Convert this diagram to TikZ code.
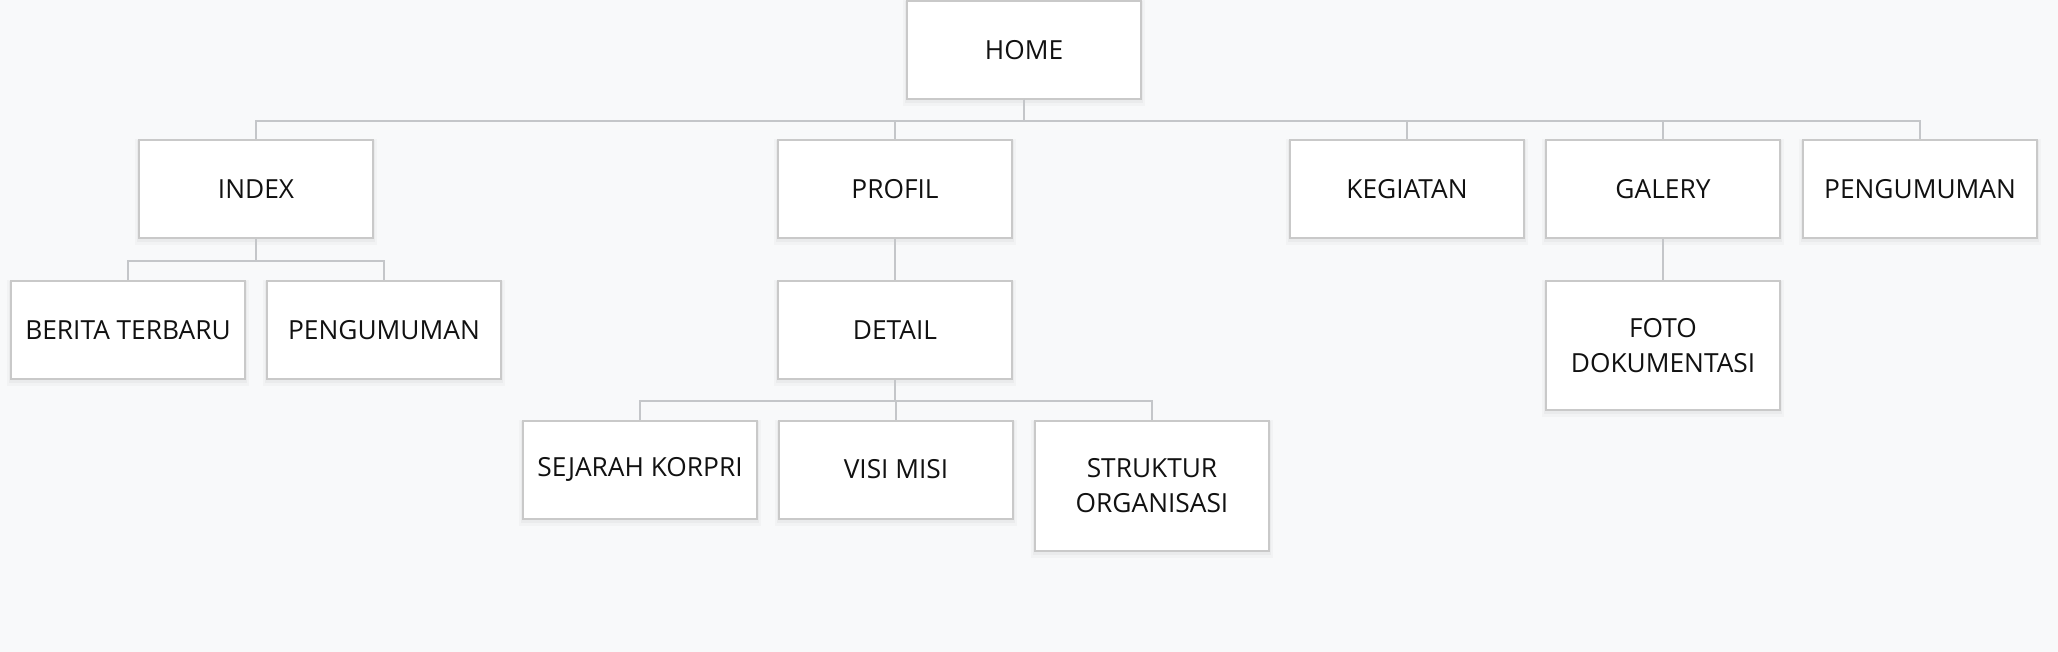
\documentclass[tikz,border=0pt]{standalone}
\usepackage{fontspec}
\setmainfont{Open Sans}
\definecolor{bgc}{HTML}{F8F9FA}
\definecolor{boxline}{HTML}{C9C9C9}
\definecolor{conn}{HTML}{C4C6C9}
\definecolor{txt}{HTML}{111111}
\tikzset{
  pagebox/.style={draw=boxline, line width=2pt, fill=white, minimum width=234pt, minimum height=98pt,
    inner sep=0pt, align=center, text=txt,
    font=\fontsize{26.3pt}{35pt}\selectfont,
    preaction={draw=black, draw opacity=0.025, line width=8pt, transform canvas={yshift=-3pt}},
    preaction={draw=black, draw opacity=0.03, line width=4pt, transform canvas={yshift=-2pt}}},
  link/.style={draw=conn, line width=2pt}
}
\begin{document}
\begin{tikzpicture}[x=1pt,y=-1pt]
\fill[bgc] (0,0) rectangle (2058,652);
\useasboundingbox (0,0) rectangle (2058,652);
% nodes
\node[pagebox] (home) at (1024,50) {HOME};
\node[pagebox] (index) at (256,189.5) {INDEX};
\node[pagebox] (profil) at (895,189.5) {PROFIL};
\node[pagebox] (kegiatan) at (1407,189.5) {KEGIATAN};
\node[pagebox] (galery) at (1663,189.5) {GALERY};
\node[pagebox] (pengum) at (1920,189.5) {PENGUMUMAN};
\node[pagebox] (berita) at (128,330) {BERITA TERBARU};
\node[pagebox] (pengumi) at (384,330) {PENGUMUMAN};
\node[pagebox] (detail) at (895,330) {DETAIL};
\node[pagebox, minimum height=129pt] (foto) at (1663,345.5) {FOTO\\DOKUMENTASI};
\node[pagebox] (sejarah) at (640,469.5) {SEJARAH KORPRI};
\node[pagebox] (visi) at (896,469.5) {VISI MISI};
\node[pagebox, minimum height=130pt] (struktur) at (1152,486) {STRUKTUR\\ORGANISASI};
% bus coordinates
\coordinate (bhome) at (1024,121);
\coordinate (bindex) at (256,261);
\coordinate (bdetail) at (895,401);
% connectors
\foreach \c in {index,profil,kegiatan,galery,pengum}
  \draw[link] (home.south) -- (home.south |- bhome) -| (\c.north);
\foreach \c in {berita,pengumi}
  \draw[link] (index.south) -- (index.south |- bindex) -| (\c.north);
\draw[link] (profil.south) -- (detail.north);
\draw[link] (galery.south) -- (foto.north);
\foreach \c in {sejarah,visi,struktur}
  \draw[link] (detail.south) -- (detail.south |- bdetail) -| (\c.north);
\end{tikzpicture}
\end{document}
